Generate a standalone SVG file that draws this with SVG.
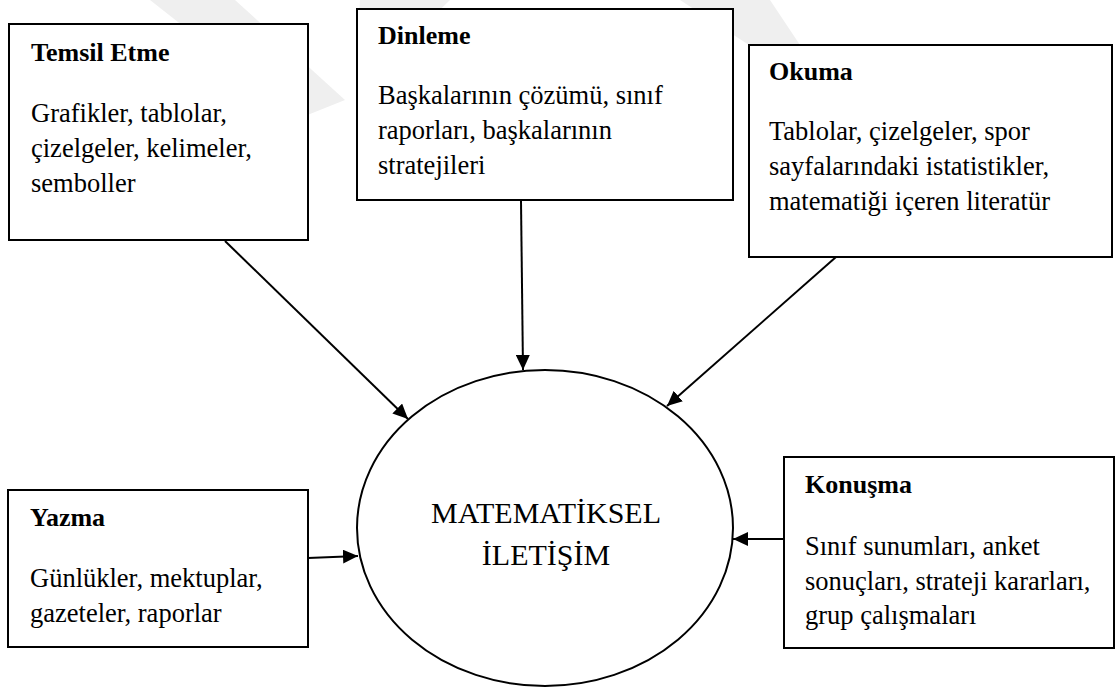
<svg xmlns="http://www.w3.org/2000/svg" width="1120" height="687" viewBox="0 0 1120 687">
  <style>
    .box { fill: #ffffff; stroke: #000000; stroke-width: 2; }
    .title { font-family: "Liberation Serif", "Times New Roman", serif; font-size: 26px; font-weight: bold; fill: #000000; }
    .body { font-family: "Liberation Serif", "Times New Roman", serif; font-size: 26.5px; fill: #000000; }
    .core { font-family: "Liberation Serif", "Times New Roman", serif; font-size: 30px; fill: #000000; text-anchor: middle; }
    .link { fill: none; stroke: #000000; stroke-width: 2; marker-end: url(#head); }
    .mark { fill: #efefef; }
  </style>
  <defs>
    <marker id="head" markerUnits="userSpaceOnUse" markerWidth="16" markerHeight="14" refX="15" refY="7" orient="auto">
      <path d="M0,0 L15,7 L0,14 Z" fill="#000000"/>
    </marker>
  </defs>

  <rect x="0" y="0" width="1120" height="687" fill="#ffffff"/>

  <!-- faint background emblem -->
  <g id="emblem">
    <polygon class="mark" points="150,0 235,0 345,100 300,118"/>
    <polygon class="mark" points="360,0 450,0 357,90 357,60"/>
    <polygon class="mark" points="680,0 770,0 800,45 749,45"/>
  </g>

  <!-- connectors -->
  <g id="connectors">
    <line class="link" x1="225" y1="241" x2="408" y2="419"/>
    <line class="link" x1="521" y1="201" x2="523" y2="370"/>
    <line class="link" x1="836" y1="257" x2="667" y2="406"/>
    <line class="link" x1="308" y1="558" x2="358" y2="556"/>
    <line class="link" x1="784" y1="539" x2="733" y2="539"/>
  </g>

  <g id="temsil-etme">
    <rect class="box" x="9" y="24" width="299" height="216"/>
    <text class="title" x="31" y="61">Temsil Etme</text>
    <text class="body" x="31" y="122">Grafikler, tablolar,</text>
    <text class="body" x="31" y="157">çizelgeler, kelimeler,</text>
    <text class="body" x="31" y="192">semboller</text>
  </g>

  <g id="dinleme">
    <rect class="box" x="357" y="9" width="376" height="191"/>
    <text class="title" x="378" y="44">Dinleme</text>
    <text class="body" x="378" y="104">Başkalarının çözümü, sınıf</text>
    <text class="body" x="378" y="139">raporları, başkalarının</text>
    <text class="body" x="378" y="174">stratejileri</text>
  </g>

  <g id="okuma">
    <rect class="box" x="749" y="45" width="363" height="212"/>
    <text class="title" x="769" y="80">Okuma</text>
    <text class="body" x="769" y="140">Tablolar, çizelgeler, spor</text>
    <text class="body" x="769" y="175">sayfalarındaki istatistikler,</text>
    <text class="body" x="769" y="210">matematiği içeren literatür</text>
  </g>

  <g id="yazma">
    <rect class="box" x="8" y="490" width="300" height="157"/>
    <text class="title" x="30" y="526">Yazma</text>
    <text class="body" x="30" y="587">Günlükler, mektuplar,</text>
    <text class="body" x="30" y="622">gazeteler, raporlar</text>
  </g>

  <g id="konusma">
    <rect class="box" x="784" y="457" width="330" height="191"/>
    <text class="title" x="805" y="493">Konuşma</text>
    <text class="body" x="805" y="555">Sınıf sunumları, anket</text>
    <text class="body" x="805" y="590">sonuçları, strateji kararları,</text>
    <text class="body" x="805" y="624">grup çalışmaları</text>
  </g>

  <g id="matematiksel-iletisim">
    <ellipse cx="545" cy="528" rx="188" ry="158" fill="#ffffff" stroke="#000000" stroke-width="2"/>
    <text class="core" x="546" y="523">MATEMATİKSEL</text>
    <text class="core" x="546" y="565">İLETİŞİM</text>
  </g>
</svg>
